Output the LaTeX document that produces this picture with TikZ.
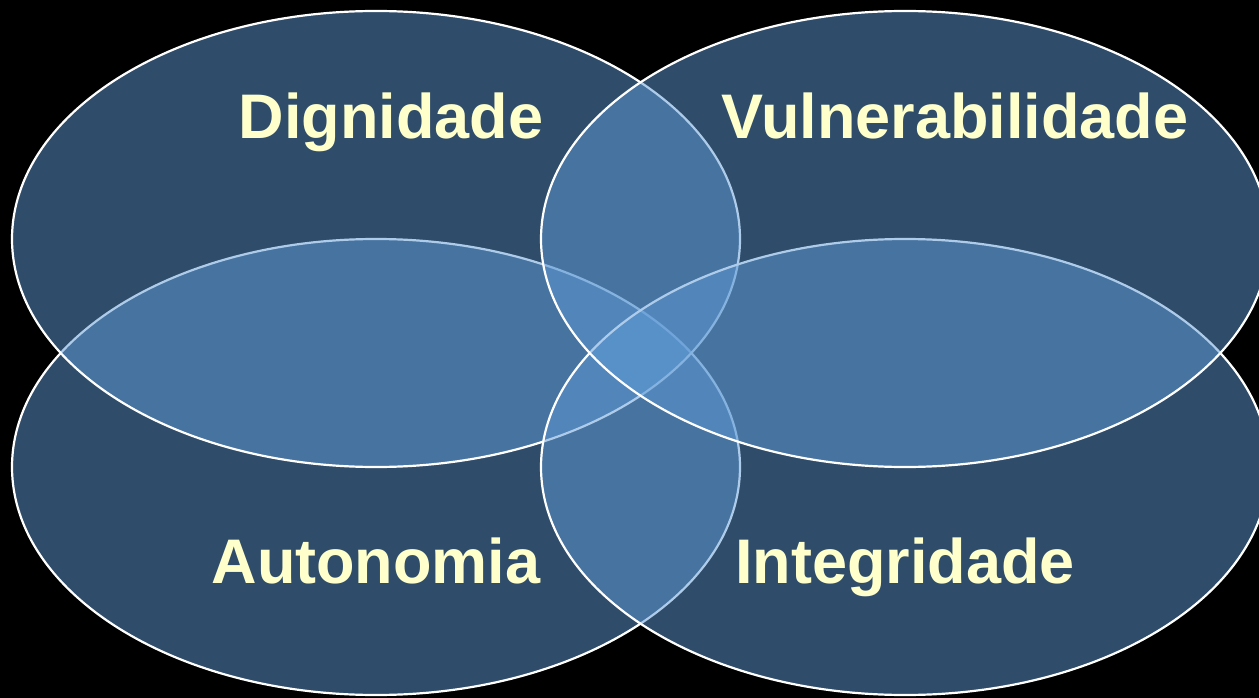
\documentclass[tikz,border=0pt]{standalone}
\usepackage{fontspec}
\setmainfont{Liberation Sans}
\definecolor{lobe}{RGB}{94,154,214}
\definecolor{word}{RGB}{255,255,204}
\tikzset{
  lobe/.style={draw=white, line width=2.2pt, fill=lobe, fill opacity=0.5, draw opacity=1},
  word/.style={inner sep=0pt, anchor=base, text=word, font=\fontsize{63}{70}\selectfont\bfseries},
}

\begin{document}
\begin{tikzpicture}[x=1pt, y=-1pt]

\fill[black] (0,0) rectangle (1259,698);
\useasboundingbox (0,0) rectangle (1259,698);
\clip (0,0) rectangle (1259,698);

% lower ones first, upper right last
\draw[lobe] (376,467) ellipse [x radius=364, y radius=228];
\draw[lobe] (376,239) ellipse [x radius=364, y radius=228];
\draw[lobe] (905,467) ellipse [x radius=364, y radius=228];
\draw[lobe] (905,239) ellipse [x radius=364, y radius=228];

\node[word] (dig) at (391,139) {Dignidade};
\node[word] (vul) at (955,139) {Vulnerabilidade};
\node[word] (aut) at (376,583) {Autonomia};
\node[word] (int) at (905,583) {Integridade};

\end{tikzpicture}
\end{document}
